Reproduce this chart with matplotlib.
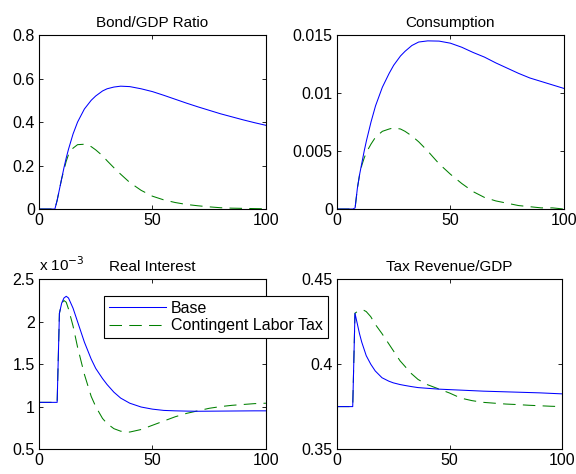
import matplotlib
matplotlib.use("Agg")
import matplotlib.pyplot as plt
from matplotlib.ticker import FuncFormatter

plt.rcParams["font.family"] = ["Liberation Sans", "DejaVu Sans"]
plt.rcParams["font.size"] = 11.5

# Time axis samples (periods)
t_base = [0, 7, 8, 9, 10, 11, 12, 13, 15, 17, 20, 23, 25, 28, 30, 33, 36, 40, 45, 50,
          55, 60, 65, 70, 75, 80, 85, 90, 95, 100]

# Bond/GDP ratio
bond_base = [0, 0, 0.04, 0.09, 0.14, 0.19, 0.235, 0.275, 0.345, 0.40, 0.46, 0.50, 0.52, 0.543,
             0.553, 0.561, 0.565, 0.563, 0.553, 0.540, 0.523, 0.505, 0.487, 0.470, 0.454,
             0.438, 0.424, 0.410, 0.397, 0.385]
bond_cont = [0, 0, 0.04, 0.09, 0.14, 0.18, 0.22, 0.25, 0.28, 0.296, 0.298, 0.287, 0.272,
             0.245, 0.222, 0.19, 0.16, 0.122, 0.086, 0.059, 0.042, 0.030, 0.021, 0.015,
             0.010, 0.006, 0.004, 0.003, 0.002, 0.001]

# Consumption
cons_base = [0, 0, 0.0001, 0.0018, 0.0030, 0.0040, 0.0050, 0.0059, 0.0075, 0.0089, 0.0105,
             0.0117, 0.0124, 0.0132, 0.0136, 0.0141, 0.0144, 0.0145, 0.01448, 0.0143,
             0.01395, 0.0135, 0.0131, 0.0126, 0.01215, 0.0117, 0.0113, 0.0110, 0.0107, 0.0104]
cons_cont = [0, 0, 0.0001, 0.0018, 0.0030, 0.0038, 0.0044, 0.0049, 0.0056, 0.0062, 0.0067,
             0.0069, 0.0070, 0.0069, 0.0067, 0.0063, 0.0058, 0.0050, 0.0039, 0.0030,
             0.0022, 0.0015, 0.0010, 0.0007, 0.0005, 0.0003, 0.0002, 0.0001, 0.0001, 0.0]

# Real interest (x 10^-3)
rate_base = [1.05, 1.05, 1.05, 2.10, 2.22, 2.28, 2.30, 2.28, 2.16, 2.00, 1.76, 1.56, 1.45,
             1.33, 1.26, 1.17, 1.10, 1.04, 0.995, 0.97, 0.955, 0.95, 0.947, 0.945, 0.946,
             0.947, 0.948, 0.949, 0.95, 0.95]
rate_cont = [1.05, 1.05, 1.05, 2.10, 2.22, 2.25, 2.23, 2.15, 1.95, 1.70, 1.38, 1.12, 1.00,
             0.86, 0.80, 0.74, 0.71, 0.70, 0.73, 0.78, 0.83, 0.88, 0.92, 0.95, 0.98,
             1.00, 1.015, 1.025, 1.035, 1.04]

# Tax revenue/GDP
tax_base = [0.375, 0.375, 0.430, 0.424, 0.418, 0.413, 0.409, 0.405, 0.400, 0.396, 0.392,
            0.390, 0.389, 0.388, 0.3875, 0.3868, 0.3862, 0.3858, 0.3853, 0.3850, 0.3847,
            0.3844, 0.3841, 0.3839, 0.3837, 0.3835, 0.3833, 0.3831, 0.3828, 0.3825]
tax_cont = [0.375, 0.375, 0.430, 0.431, 0.4315, 0.432, 0.4317, 0.431, 0.428, 0.4235, 0.418,
            0.412, 0.408, 0.402, 0.399, 0.3945, 0.391, 0.388, 0.3855, 0.383, 0.380,
            0.3785, 0.3775, 0.377, 0.3765, 0.3762, 0.3758, 0.3755, 0.3752, 0.375]

fig = plt.figure(figsize=(5.76, 4.74), dpi=100)

positions = [
    [0.0677, 0.559, 0.394, 0.367],
    [0.585, 0.559, 0.394, 0.367],
    [0.0677, 0.0527, 0.394, 0.358],
    [0.585, 0.0527, 0.391, 0.358],
]
titles = ["Bond/GDP Ratio", "Consumption", "Real Interest", "Tax Revenue/GDP"]
series = [(bond_base, bond_cont), (cons_base, cons_cont),
          (rate_base, rate_cont), (tax_base, tax_cont)]
ylims = [(0, 0.8), (0, 0.015), (0.5, 2.5), (0.35, 0.45)]
yticks = [[0, 0.2, 0.4, 0.6, 0.8], [0, 0.005, 0.01, 0.015],
          [0.5, 1, 1.5, 2, 2.5], [0.35, 0.4, 0.45]]

axes = []
for pos, title, (yb, yc), yl, yt in zip(positions, titles, series, ylims, yticks):
    ax = fig.add_axes(pos)
    lc, = ax.plot(t_base, yc, color=(0, 0.5, 0), lw=0.75, ls=(0, (12, 7)),
                  label="Contingent Labor Tax")
    lb, = ax.plot(t_base, yb, color=(0, 0, 1), lw=0.75, label="Base")
    ax.set_xlim(0, 100)
    ax.set_ylim(*yl)
    ax.set_xticks([0, 50, 100])
    ax.set_yticks(yt)
    ax.yaxis.set_major_formatter(FuncFormatter(lambda v, p: "%g" % v))
    ax.tick_params(direction="in", length=3, width=0.6, top=True, right=True,
                   labelsize=11.5, pad=3)
    for s in ax.spines.values():
        s.set_linewidth(0.8)
    ax.set_title(title, fontsize=11, pad=6)
    axes.append(ax)

axes[2].text(0.0, 1.03, "x 10$^{-3}$", transform=axes[2].transAxes, fontsize=11,
             ha="left", va="bottom")

leg = axes[2].legend(handles=[lb, lc], loc="upper left",
                     bbox_to_anchor=(104 / 576, 1 - 296 / 474),
                     bbox_transform=fig.transFigure, borderaxespad=0,
                     fancybox=False, framealpha=1, edgecolor="black",
                     handlelength=3.6, fontsize=11.5, labelspacing=0.15,
                     borderpad=0.3, handletextpad=0.3)
leg.get_frame().set_linewidth(0.8)
leg.set_zorder(10)

fig.savefig("out.png", dpi=100)
